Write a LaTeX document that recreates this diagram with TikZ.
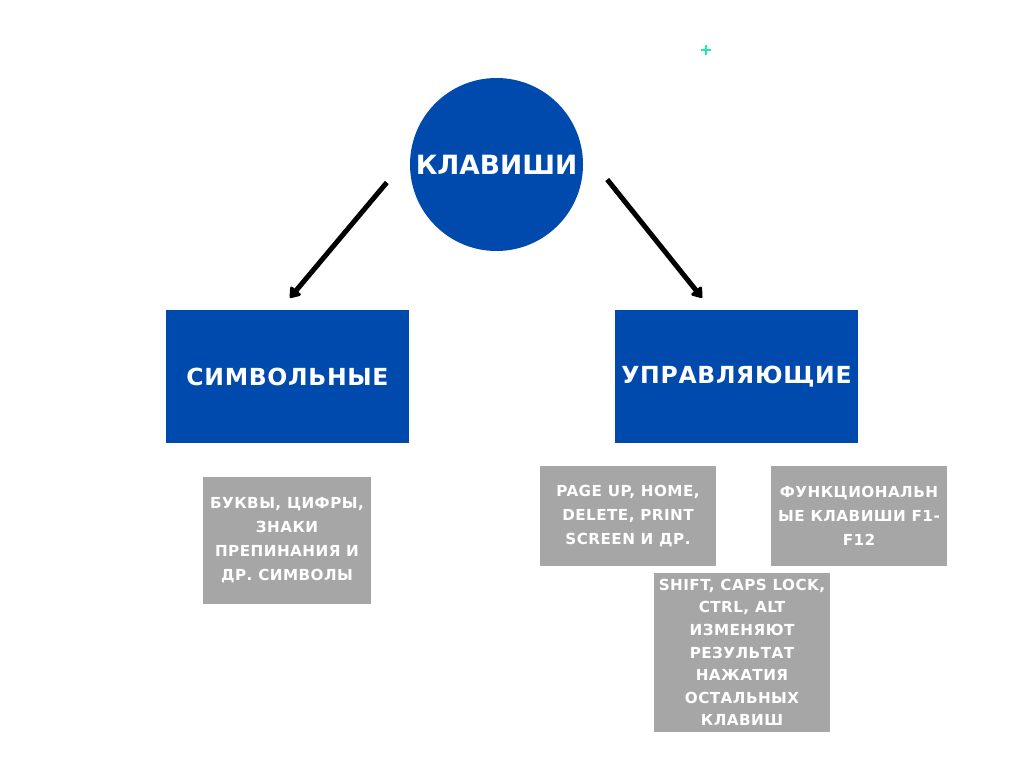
\documentclass[tikz,border=0pt]{standalone}
\usepackage{fontspec}
\setmainfont{DejaVu Sans}
\newfontfamily\capsfont{DejaVu Sans}[LetterSpace=3]
\newfontfamily\titlefont{DejaVu Sans}
\usetikzlibrary{arrows.meta}
\definecolor{keyblue}{HTML}{004AAD}
\definecolor{keygray}{HTML}{A6A6A6}
\definecolor{plusgreen}{HTML}{1DE9B6}
\begin{document}
\begin{tikzpicture}[x=1pt,y=-1pt,
  bluebox/.style={fill=keyblue, text=white, font=\capsfont\bfseries\fontsize{23.5}{30}\selectfont, minimum width=243pt, minimum height=133pt, inner sep=0pt},
  graybox/.style={fill=keygray, text=white, font=\capsfont\bfseries\fontsize{15.2}{24}\selectfont, align=center, inner sep=0pt},
  arr/.style={line width=5pt, -{Triangle[round, length=11pt, width=15pt]}}]
\useasboundingbox[fill=white] (0,0) rectangle (1024,768);
% top circle
\node[circle, fill=keyblue, text=white, minimum size=173pt, inner sep=0pt,
  font=\titlefont\bfseries\fontsize{26.5}{32}\selectfont] (keys) at (496.5,164.5) {КЛАВИШИ};
% two groups
\node[bluebox] (sym) at (287.5,376.5) {СИМВОЛЬНЫЕ};
\node[bluebox] (ctl) at (736.5,376.5) {УПРАВЛЯЮЩИЕ};
% examples
\node[graybox, minimum width=168pt, minimum height=127pt] (symex) at (287,540.5)
  {БУКВЫ, ЦИФРЫ,\\ЗНАКИ\\ПРЕПИНАНИЯ И\\ДР. СИМВОЛЫ};
\node[graybox, minimum width=176pt, minimum height=100pt] (navex) at (628,516)
  {PAGE UP, HOME,\\DELETE, PRINT\\SCREEN И ДР.};
\node[graybox, minimum width=176pt, minimum height=100pt] (fnex) at (859,516)
  {ФУНКЦИОНАЛЬН\\ЫЕ КЛАВИШИ F1-\\F12};
\node[graybox, minimum width=176pt, minimum height=159pt,
  font=\capsfont\bfseries\fontsize{15.2}{22.6}\selectfont] (modex) at (742,652.5)
  {SHIFT, CAPS LOCK,\\CTRL, ALT\\ИЗМЕНЯЮТ\\РЕЗУЛЬТАТ\\НАЖАТИЯ\\ОСТАЛЬНЫХ\\КЛАВИШ};
% arrows
\draw[arr] ([xshift=-23pt, yshift=-18pt]keys.west) -- ([xshift=2.5pt, yshift=12pt]sym.north);
\draw[arr] ([xshift=24pt, yshift=-15pt]keys.east) -- ([xshift=-34.5pt, yshift=12pt]ctl.north);
% small green mark
\draw[plusgreen, line width=2pt] (701,50) -- (711,50) (706,45) -- (706,55);
\end{tikzpicture}
\end{document}
